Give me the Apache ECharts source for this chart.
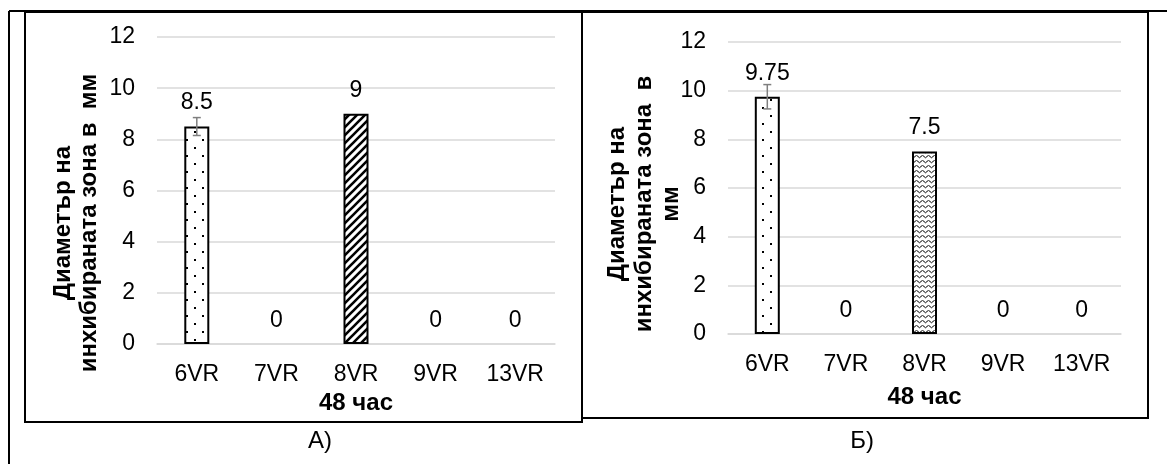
<!DOCTYPE html>
<html>
<head>
<meta charset="utf-8">
<script src="https://cdn.jsdelivr.net/npm/echarts@6/dist/echarts.min.js"></script>
<style>
html,body{margin:0;padding:0;background:#fff;}
#c{width:1167px;height:464px;}
</style>
</head>
<body>
<div id="c"></div>
<script>
// ---- data ----
const categories = ['6VR', '7VR', '8VR', '9VR', '13VR'];
const valuesA = [8.5, 0, 9, 0, 0];
const errorsA = [0.35, 0, 0, 0, 0];
const valuesB = [9.75, 0, 7.5, 0, 0];
const errorsB = [0.5, 0, 0, 0, 0];
const yTicks = [0, 2, 4, 6, 8, 10, 12];
const xTitle = '48 час';
const yTitleA = 'Диаметър на\nинхибираната зона в  мм';
const yTitleB = 'Диаметър на\nинхибираната зона  в\nмм';
const captionA = 'А)';
const captionB = 'Б)';

const FONT = "'Liberation Sans', Arial, sans-serif";
const FS = 23;

// ---- patterns ----
function makeTile(w, h, draw) {
  const c = document.createElement('canvas');
  c.width = w; c.height = h;
  const ctx = c.getContext('2d');
  ctx.fillStyle = '#fff';
  ctx.fillRect(0, 0, w, h);
  draw(ctx);
  return c;
}
const dotTile = makeTile(16, 16, ctx => {
  ctx.fillStyle = '#000';
  ctx.fillRect(2, 3, 2, 2);
  ctx.fillRect(10, 11, 2, 2);
});
const stripeTile = makeTile(8, 8, ctx => {
  ctx.strokeStyle = '#000';
  ctx.lineWidth = 2.6;
  ctx.beginPath();
  ctx.moveTo(-2, 10); ctx.lineTo(10, -2);
  ctx.moveTo(-6, 6); ctx.lineTo(6, -6);
  ctx.moveTo(2, 14); ctx.lineTo(14, 2);
  ctx.stroke();
});
const waveTile = makeTile(6, 5, ctx => {
  ctx.strokeStyle = '#000';
  ctx.lineWidth = 1;
  ctx.beginPath();
  ctx.moveTo(0, 1.5); ctx.quadraticCurveTo(1.5, 4, 3, 1.5); ctx.quadraticCurveTo(4.5, -1, 6, 1.5);
  ctx.stroke();
});
const patternsA = [dotTile, null, stripeTile, null, null];
const patternsB = [dotTile, null, waveTile, null, null];

function barData(values, patterns) {
  return values.map((v, i) => ({
    value: v,
    itemStyle: patterns[i]
      ? { color: { image: patterns[i], repeat: 'repeat' } }
      : { color: 'rgba(0,0,0,0)', borderWidth: 0 }
  }));
}
function errData(values, errors) {
  return values.map((v, i) => [i, v, errors[i]]).filter(d => d[2] > 0);
}

function errRender(params, api) {
  const x = api.value(0), v = api.value(1), e = api.value(2);
  const hi = api.coord([x, v + e]);
  const lo = api.coord([x, v - e]);
  const cap = 4;
  const st = { stroke: '#7f7f7f', lineWidth: 1.5 };
  return {
    type: 'group',
    children: [
      { type: 'line', shape: { x1: hi[0], y1: hi[1], x2: lo[0], y2: lo[1] }, style: st },
      { type: 'line', shape: { x1: hi[0] - cap, y1: hi[1], x2: hi[0] + cap, y2: hi[1] }, style: st },
      { type: 'line', shape: { x1: lo[0] - cap, y1: lo[1], x2: lo[0] + cap, y2: lo[1] }, style: st }
    ]
  };
}

function xAxis(gridIndex, margin, nameGap) {
  return {
    type: 'category', gridIndex, data: categories,
    axisLine: { show: true, lineStyle: { color: '#d9d9d9', width: 1.5 } },
    axisTick: { show: false },
    axisLabel: { color: '#000', fontSize: FS, fontFamily: FONT, margin, interval: 0 },
    name: xTitle, nameLocation: 'middle', nameGap,
    nameTextStyle: { color: '#000', fontSize: 24, fontWeight: 'bold', fontFamily: FONT }
  };
}
function yAxis(gridIndex, margin) {
  return {
    type: 'value', gridIndex, min: yTicks[0], max: yTicks[yTicks.length - 1], interval: yTicks[1] - yTicks[0],
    axisLine: { show: false }, axisTick: { show: false },
    splitLine: { lineStyle: { color: '#d9d9d9', width: 1.5 } },
    axisLabel: { color: '#000', fontSize: FS, fontFamily: FONT, margin }
  };
}
const labelCfg = { show: true, position: 'top', distance: 12, color: '#000', fontSize: FS, fontFamily: FONT };

const chart = echarts.init(document.getElementById('c'), null, { renderer: 'canvas' });
chart.setOption({
  animation: false,
  backgroundColor: '#fff',
  grid: [
    { left: 157, right: 612, top: 37, bottom: 120 },
    { left: 728, right: 46, top: 42, bottom: 130 }
  ],
  xAxis: [xAxis(0, 19, 44), xAxis(1, 19, 51)],
  yAxis: [yAxis(0, 22), yAxis(1, 22)],
  series: [
    { type: 'bar', xAxisIndex: 0, yAxisIndex: 0, barWidth: 25, data: barData(valuesA, patternsA),
      itemStyle: { borderColor: '#000', borderWidth: 2 }, label: labelCfg, z: 2 },
    { type: 'custom', xAxisIndex: 0, yAxisIndex: 0, renderItem: errRender, data: errData(valuesA, errorsA), z: 5 },
    { type: 'bar', xAxisIndex: 1, yAxisIndex: 1, barWidth: 25, data: barData(valuesB, patternsB),
      itemStyle: { borderColor: '#000', borderWidth: 2 }, label: labelCfg, z: 2 },
    { type: 'custom', xAxisIndex: 1, yAxisIndex: 1, renderItem: errRender, data: errData(valuesB, errorsB), z: 5 }
  ],
  graphic: [
    // outer frame
    { type: 'line', shape: { x1: 9, y1: 11, x2: 1167, y2: 11 }, style: { stroke: '#000', lineWidth: 2 } },
    { type: 'line', shape: { x1: 9, y1: 11, x2: 9, y2: 464 }, style: { stroke: '#000', lineWidth: 2 } },
    // panel A frame
    { type: 'rect', shape: { x: 25, y: 12, width: 557, height: 410 }, style: { fill: null, stroke: '#000', lineWidth: 2 } },
    // panel B frame
    { type: 'rect', shape: { x: 582, y: 12, width: 566, height: 406 }, style: { fill: null, stroke: '#000', lineWidth: 2 } },
    // y titles
    { type: 'text', x: 76, y: 223, rotation: Math.PI / 2,
      style: { text: yTitleA, fontSize: 24, fontWeight: 'bold', fontFamily: FONT, fill: '#000',
               align: 'center', verticalAlign: 'middle', lineHeight: 26 } },
    { type: 'text', x: 644, y: 204, rotation: Math.PI / 2,
      style: { text: yTitleB, fontSize: 24, fontWeight: 'bold', fontFamily: FONT, fill: '#000',
               align: 'center', verticalAlign: 'middle', lineHeight: 27 } },
    // captions
    { type: 'text', x: 320, y: 441,
      style: { text: captionA, fontSize: 24, fontFamily: FONT, fill: '#000', align: 'center', verticalAlign: 'middle' } },
    { type: 'text', x: 862, y: 441,
      style: { text: captionB, fontSize: 24, fontFamily: FONT, fill: '#000', align: 'center', verticalAlign: 'middle' } }
  ]
});
</script>
</body>
</html>
